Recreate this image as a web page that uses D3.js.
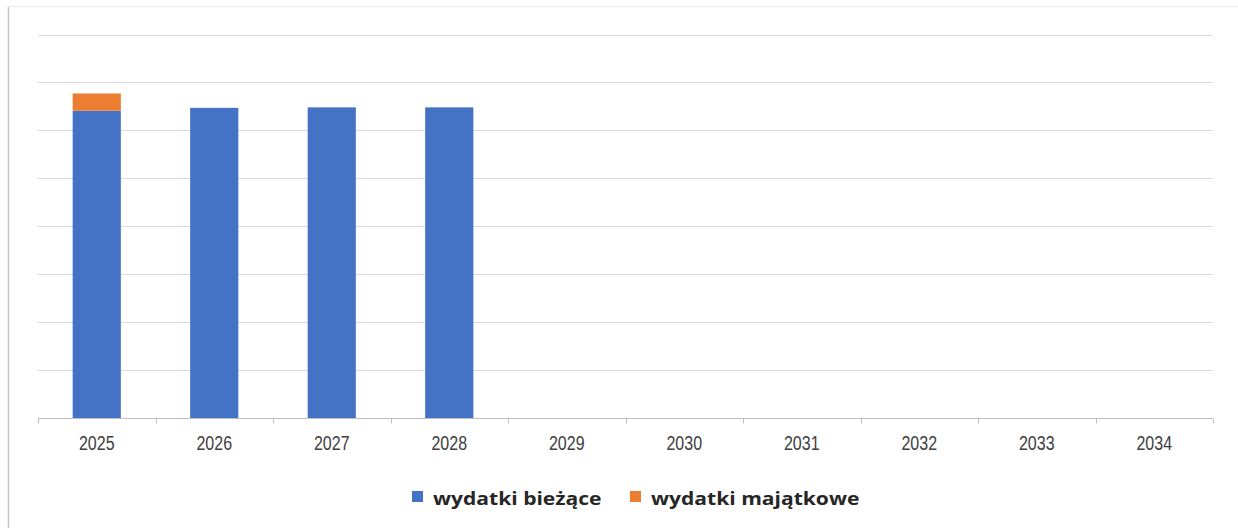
<!DOCTYPE html>
<html>
<head>
<meta charset="utf-8">
<script src="https://cdn.jsdelivr.net/npm/d3@7"></script>
<style>
body { margin: 0; background: #fff; }
</style>
</head>
<body>
<script>
// data (no y labels in the source, units are a guess)
var years = ["2025", "2026", "2027", "2028", "2029", "2030", "2031", "2032", "2033", "2034"];
var biezace = [64.1, 64.7, 64.8, 64.8, 0, 0, 0, 0, 0, 0];
var majatkowe = [3.6, 0, 0, 0, 0, 0, 0, 0, 0, 0];
var seriesNames = ["wydatki bieżące", "wydatki majątkowe"];
var seriesColors = ["#4472C4", "#ED7D31"];
var yTicks = [0, 10, 20, 30, 40, 50, 60, 70, 80];

var width = 1238, height = 528;

var svg = d3.select("body").append("svg")
	.attr("width", width).attr("height", height);

// chart frame (left and top edges of the pasted chart)
svg.append("line").attr("x1", 8.5).attr("x2", 8.5).attr("y1", 6).attr("y2", 528)
	.attr("stroke", "#c8c8c8").attr("stroke-width", 1.5);
svg.append("line").attr("x1", 8).attr("x2", 1238).attr("y1", 6.5).attr("y2", 6.5)
	.attr("stroke", "#ececec").attr("stroke-width", 1);

var x = d3.scaleBand().domain(years).range([38, 1213]).paddingInner(0.59).paddingOuter(0.295);
var y = d3.scaleLinear().domain([0, 80]).range([418, 34.5]);

// gridlines
svg.append("g").selectAll("line").data(yTicks.slice(1)).join("line")
	.attr("x1", 38).attr("x2", 1213)
	.attr("y1", function (d) { return Math.round(y(d)) + 0.5; })
	.attr("y2", function (d) { return Math.round(y(d)) + 0.5; })
	.attr("stroke", "#d9d9d9").attr("stroke-width", 1);

// stacked bars
var rows = years.map(function (yr, i) { return { year: yr, b: biezace[i], m: majatkowe[i] }; });
var stack = d3.stack().keys(["b", "m"])(rows);

svg.append("g").selectAll("g").data(stack).join("g")
	.attr("fill", function (d, i) { return seriesColors[i]; })
	.selectAll("rect").data(function (d) { return d; }).join("rect")
	.attr("x", function (d) { return x(d.data.year); })
	.attr("width", x.bandwidth())
	.attr("y", function (d) { return y(d[1]); })
	.attr("height", function (d) { return y(d[0]) - y(d[1]); });

// x axis with ticks between categories
var axisY = 418.5;
svg.append("line").attr("x1", 38).attr("x2", 1213).attr("y1", axisY).attr("y2", axisY)
	.attr("stroke", "#bfbfbf").attr("stroke-width", 1);
var tickXs = d3.range(years.length + 1).map(function (i) { return 38 + i * (1175 / years.length); });
svg.append("g").selectAll("line").data(tickXs).join("line")
	.attr("x1", function (d) { return Math.round(d) + 0.5; })
	.attr("x2", function (d) { return Math.round(d) + 0.5; })
	.attr("y1", axisY).attr("y2", axisY + 5)
	.attr("stroke", "#bfbfbf");

// narrow-looking year labels
svg.append("g").selectAll("text").data(years).join("text")
	.attr("transform", function (d) { return "translate(" + (x(d) + x.bandwidth() / 2) + ",450) scale(0.8,1)"; })
	.attr("text-anchor", "middle")
	.style("font-family", "'Liberation Sans', Arial, sans-serif")
	.style("font-size", "20px")
	.attr("fill", "#404040")
	.text(function (d) { return d; });

// legend (stretched wide like the source)
var legend = svg.append("g");
var lx = [412, 630];
seriesNames.forEach(function (name, i) {
	legend.append("rect").attr("x", lx[i]).attr("y", 491).attr("width", 11).attr("height", 11)
		.attr("fill", seriesColors[i]);
	legend.append("text")
		.attr("transform", "translate(" + (lx[i] + 21) + ",505) scale(1.24,1)")
		.style("font-family", "'Open Sans', sans-serif")
		.style("font-weight", "bold")
		.style("font-size", "17px")
		.attr("fill", "#262626")
		.text(name);
});
</script>
</body>
</html>
